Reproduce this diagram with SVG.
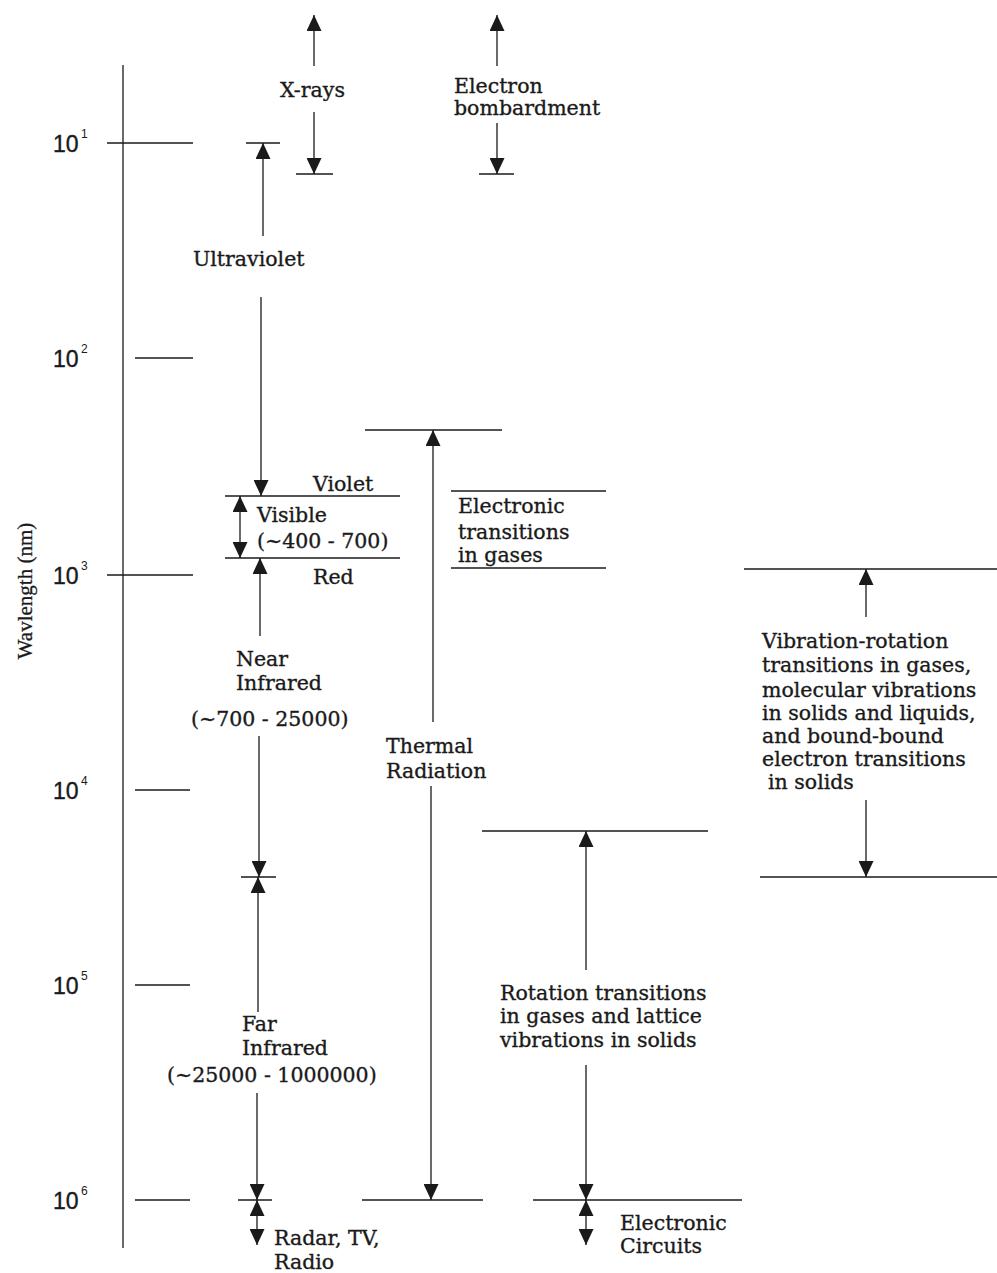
<svg xmlns="http://www.w3.org/2000/svg" width="997" height="1273" viewBox="0 0 997 1273">
<defs>
<marker id="ah" viewBox="0 0 16 15" refX="16" refY="7.5" markerWidth="16" markerHeight="15" markerUnits="userSpaceOnUse" orient="auto-start-reverse">
<path d="M0,0 L16,7.5 L0,15 Z" fill="#1a1a1a"/>
</marker>
</defs>
<style>
.ln{stroke:#1a1a1a;stroke-width:1.3;fill:none}
.ar{stroke:#1a1a1a;stroke-width:1.3;fill:none;marker-end:url(#ah)}
.t{font-family:"DejaVu Serif","Liberation Serif",serif;font-size:20.5px;fill:#1a1a1a;stroke:#1a1a1a;stroke-width:0.35}
.ax{font-family:"Liberation Sans",Arial,sans-serif;font-size:23px;fill:#1a1a1a;stroke:#1a1a1a;stroke-width:0.4}
.sup{font-family:"Liberation Sans",Arial,sans-serif;font-size:12px;fill:#1a1a1a}
.yl{font-family:"Liberation Serif","Times New Roman",serif;font-size:21px;fill:#1a1a1a;stroke:#1a1a1a;stroke-width:0.3}
</style>
<rect width="997" height="1273" fill="#ffffff"/>

<g id="axis">
<line class="ln" x1="123" y1="65" x2="123" y2="1248"/>
<line class="ln" x1="107" y1="143" x2="193" y2="143"/>
<line class="ln" x1="135" y1="358" x2="193" y2="358"/>
<line class="ln" x1="107" y1="575" x2="193" y2="575"/>
<line class="ln" x1="135" y1="790" x2="190" y2="790"/>
<line class="ln" x1="135" y1="985" x2="190" y2="985"/>
<line class="ln" x1="135" y1="1200" x2="190" y2="1200"/>
<text class="ax" x="53" y="152">10</text><text class="sup" x="81" y="138">1</text>
<text class="ax" x="53" y="367">10</text><text class="sup" x="81" y="353">2</text>
<text class="ax" x="53" y="584">10</text><text class="sup" x="81" y="570">3</text>
<text class="ax" x="53" y="799">10</text><text class="sup" x="81" y="785">4</text>
<text class="ax" x="53" y="994">10</text><text class="sup" x="81" y="980">5</text>
<text class="ax" x="53" y="1209">10</text><text class="sup" x="81" y="1195">6</text>
<text class="yl" transform="translate(32,591) rotate(-90)" text-anchor="middle">Wavlength (nm)</text>
</g>

<g id="xrays">
<line class="ln" x1="296" y1="174" x2="333" y2="174"/>
<text class="t" x="280" y="97">X-rays</text>
</g>

<g id="electron-bombardment">
<line class="ln" x1="479" y1="174" x2="514" y2="174"/>
<text class="t" x="454" y="93">Electron</text>
<text class="t" x="454" y="115">bombardment</text>
</g>

<g id="ultraviolet">
<line class="ln" x1="246" y1="143" x2="280" y2="143"/>
<text class="t" x="193" y="266">Ultraviolet</text>
</g>

<g id="visible">
<line class="ln" x1="225" y1="496" x2="400" y2="496"/>
<line class="ln" x1="225" y1="558" x2="400" y2="558"/>
<text class="t" x="313" y="491">Violet</text>
<text class="t" x="257" y="522">Visible</text>
<text class="t" x="257" y="548">(~400 - 700)</text>
<text class="t" x="313" y="584">Red</text>
</g>

<g id="electronic-gases">
<line class="ln" x1="451" y1="491" x2="606" y2="491"/>
<line class="ln" x1="451" y1="568" x2="606" y2="568"/>
<text class="t" x="458" y="513">Electronic</text>
<text class="t" x="458" y="539">transitions</text>
<text class="t" x="458" y="562">in gases</text>
</g>

<g id="near-infrared">
<line class="ln" x1="241" y1="877" x2="276" y2="877"/>
<text class="t" x="236" y="666">Near</text>
<text class="t" x="236" y="690">Infrared</text>
<text class="t" x="191" y="726">(~700 - 25000)</text>
</g>

<g id="thermal">
<line class="ln" x1="365" y1="430" x2="502" y2="430"/>
<line class="ln" x1="362" y1="1200" x2="483" y2="1200"/>
<text class="t" x="386" y="753">Thermal</text>
<text class="t" x="386" y="778">Radiation</text>
</g>

<g id="vibration-rotation">
<line class="ln" x1="744" y1="569" x2="997" y2="569"/>
<line class="ln" x1="760" y1="877" x2="997" y2="877"/>
<text class="t" x="762" y="648">Vibration-rotation</text>
<text class="t" x="762" y="672">transitions in gases,</text>
<text class="t" x="762" y="697">molecular vibrations</text>
<text class="t" x="762" y="720">in solids and liquids,</text>
<text class="t" x="762" y="743">and bound-bound</text>
<text class="t" x="762" y="766">electron transitions</text>
<text class="t" x="768" y="789">in solids</text>
</g>

<g id="rotation">
<line class="ln" x1="482" y1="831" x2="708" y2="831"/>
<line class="ln" x1="533" y1="1200" x2="742" y2="1200"/>
<text class="t" x="500" y="1000">Rotation transitions</text>
<text class="t" x="500" y="1023">in gases and lattice</text>
<text class="t" x="500" y="1047">vibrations in solids</text>
</g>

<g id="far-infrared">
<line class="ln" x1="238" y1="1200" x2="272" y2="1200"/>
<text class="t" x="242" y="1031">Far</text>
<text class="t" x="242" y="1055">Infrared</text>
<text class="t" x="167" y="1082">(~25000 - 1000000)</text>
</g>

<g id="radar">
<text class="t" x="274" y="1245">Radar, TV,</text>
<text class="t" x="274" y="1269">Radio</text>
</g>

<g id="electronic-circuits">
<text class="t" x="620" y="1230">Electronic</text>
<text class="t" x="620" y="1253">Circuits</text>
</g>

<g id="connectors">
<line class="ar" x1="314" y1="66" x2="314" y2="15"/>
<line class="ar" x1="314" y1="112" x2="314" y2="174"/>
<line class="ar" x1="497" y1="66" x2="497" y2="15"/>
<line class="ar" x1="497" y1="123" x2="497" y2="174"/>
<line class="ar" x1="263" y1="236" x2="263" y2="143"/>
<line class="ar" x1="261" y1="297" x2="261" y2="496"/>
<line class="ar" x1="240" y1="527" x2="240" y2="496"/>
<line class="ar" x1="240" y1="527" x2="240" y2="558"/>
<line class="ar" x1="260" y1="636" x2="260" y2="558"/>
<line class="ar" x1="259" y1="736" x2="259" y2="877"/>
<line class="ar" x1="258" y1="1012" x2="258" y2="877"/>
<line class="ar" x1="257" y1="1093" x2="257" y2="1200"/>
<line class="ar" x1="257" y1="1215" x2="257" y2="1200"/>
<line class="ar" x1="257" y1="1215" x2="257" y2="1245"/>
<line class="ar" x1="433" y1="722" x2="433" y2="430"/>
<line class="ar" x1="431" y1="786" x2="431" y2="1200"/>
<line class="ar" x1="866" y1="617" x2="866" y2="569"/>
<line class="ar" x1="866" y1="800" x2="866" y2="877"/>
<line class="ar" x1="586" y1="970" x2="586" y2="831"/>
<line class="ar" x1="586" y1="1065" x2="586" y2="1200"/>
<line class="ar" x1="586" y1="1215" x2="586" y2="1200"/>
<line class="ar" x1="586" y1="1215" x2="586" y2="1245"/>
</g>
</svg>
